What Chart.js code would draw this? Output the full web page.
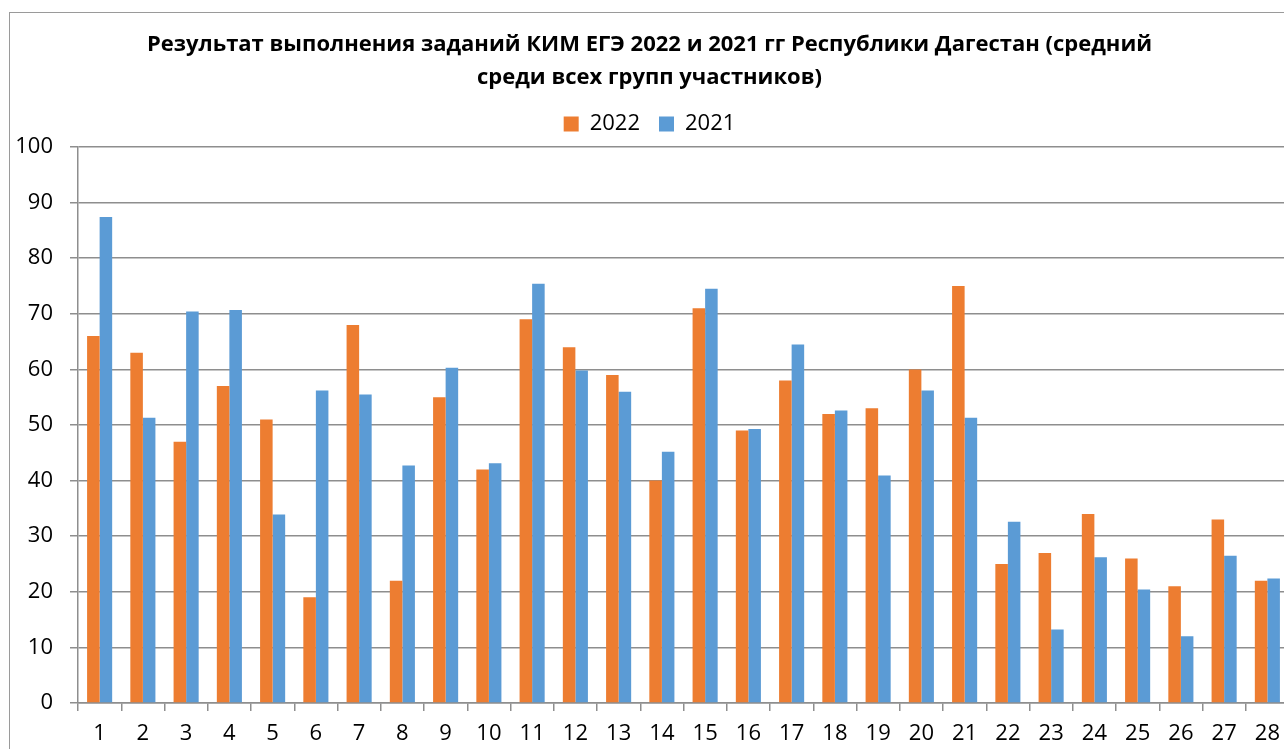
<!DOCTYPE html>
<html lang="ru">
<head>
<meta charset="utf-8">
<title>Результат выполнения заданий КИМ ЕГЭ</title>
<script src="https://cdn.jsdelivr.net/npm/chart.js@4"></script>
<style>
  html, body { margin: 0; padding: 0; background: #fff; overflow: hidden; }
  #frame {
    position: absolute; left: 9px; top: 12px;
    width: 1300px; height: 760px;
    border-left: 1px solid #9a9a9a; border-top: 1px solid #9a9a9a;
    background: #fff;
  }
</style>
</head>
<body>
<div id="frame"><canvas id="myChart" width="1300" height="760"></canvas></div>
<script>
const tasks = ['1', '2', '3', '4', '5', '6', '7', '8', '9', '10', '11', '12', '13', '14',
               '15', '16', '17', '18', '19', '20', '21', '22', '23', '24', '25', '26', '27', '28'];
const res2022 = [66, 63, 47, 57, 51, 19, 68, 22, 55, 42, 69, 64, 59, 40,
                 71, 49, 58, 52, 53, 60, 75, 25, 27, 34, 26, 21, 33, 22];
const res2021 = [87.4, 51.3, 70.4, 70.7, 33.9, 56.2, 55.5, 42.7, 60.3, 43.1, 75.4, 59.8, 56.0, 45.2,
                 74.5, 49.3, 64.5, 52.6, 40.9, 56.2, 51.3, 32.6, 13.2, 26.2, 20.4, 12.0, 26.5, 22.4];
const yTicks = [0, 10, 20, 30, 40, 50, 60, 70, 80, 90, 100];

const FONT = "'Open Sans', 'Noto Sans', sans-serif";
const GRID = '#8e8e8e';

// a little extra room between the legend and the plot
const legendGap = {
    id: 'legendGap',
    beforeInit(chart) {
        const fit = chart.legend.fit;
        chart.legend.fit = function () {
            fit.bind(chart.legend)();
            this.height += 2;
        };
    }
};

function createChart() {
    const ctx = document.getElementById('myChart').getContext('2d');
    new Chart(ctx, {
        type: 'bar',
        data: {
            labels: tasks,
            datasets: [{
                label: '2022',
                data: res2022,
                backgroundColor: '#ED7D31',
                categoryPercentage: 0.58,
                barPercentage: 1.0
            }, {
                label: '2021',
                data: res2021,
                backgroundColor: '#5B9BD5',
                categoryPercentage: 0.58,
                barPercentage: 1.0
            }]
        },
        options: {
            responsive: false,
            animation: false,
            layout: { padding: { left: 0, right: 21, top: 4, bottom: 20 } },
            plugins: {
                title: {
                    display: true,
                    text: ['Результат выполнения заданий КИМ ЕГЭ 2022 и 2021 гг Республики Дагестан (средний',
                           'среди всех групп участников)'],
                    color: '#000',
                    font: { family: FONT, size: 22, weight: 'bold', lineHeight: 1.5 },
                    padding: { top: 11, bottom: 0 }
                },
                legend: {
                    position: 'top',
                    labels: {
                        color: '#000',
                        font: { family: FONT, size: 22 },
                        boxWidth: 15,
                        boxHeight: 15,
                        padding: 19
                    }
                },
                tooltip: { enabled: false }
            },
            scales: {
                x: {
                    grid: {
                        drawOnChartArea: false,
                        drawTicks: true,
                        tickLength: 8,
                        color: GRID,
                        lineWidth: 1.5
                    },
                    border: { color: GRID, width: 1.5 },
                    ticks: {
                        color: '#000',
                        font: { family: FONT, size: 22 },
                        padding: 10,
                        maxRotation: 0,
                        autoSkip: false
                    },
                    afterFit(scale) { scale.height = 50; }
                },
                y: {
                    min: 0,
                    max: 100,
                    afterBuildTicks(scale) {
                        scale.ticks = yTicks.map(v => ({ value: v }));
                    },
                    grid: {
                        color: GRID,
                        lineWidth: 1.5,
                        tickLength: 8
                    },
                    border: { color: GRID, width: 1.5 },
                    ticks: {
                        color: '#000',
                        font: { family: FONT, size: 22 },
                        padding: 17
                    },
                    afterFit(scale) { scale.width = 68; }
                }
            }
        },
        plugins: [legendGap]
    });
}
createChart();
</script>
</body>
</html>
